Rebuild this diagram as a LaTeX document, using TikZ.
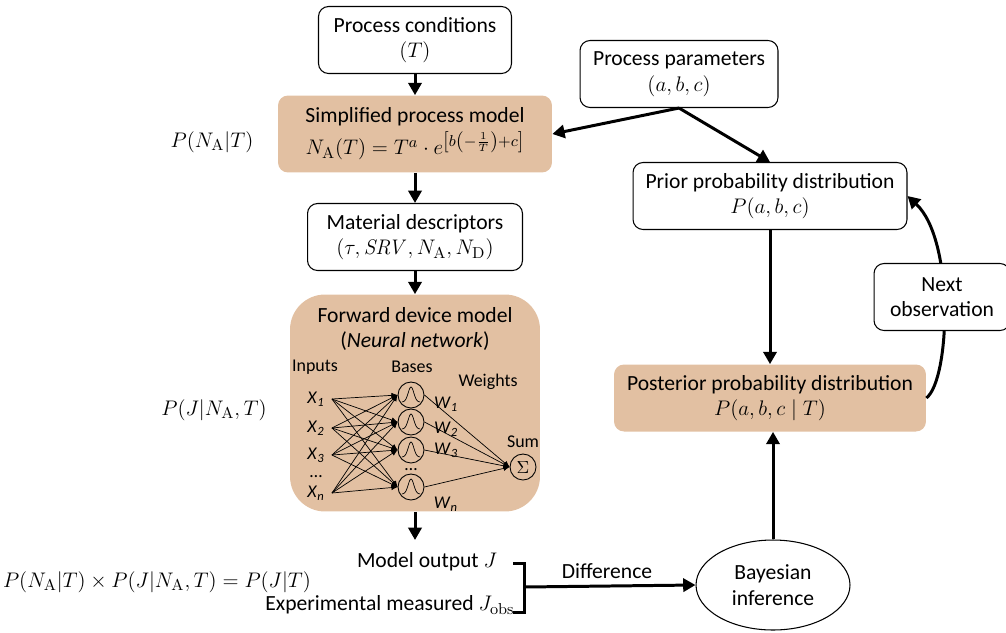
\documentclass[tikz,border=0pt]{standalone}
\usepackage{amsmath}
\usepackage[no-math]{fontspec}
\setmainfont{Carlito}
\usepackage{tikz}
\usetikzlibrary{arrows.meta,shapes.geometric}
\definecolor{tanfill}{RGB}{226,192,162}
\tikzset{
  whitebox/.style={draw, line width=0.6pt, rounded corners=0.2cm, fill=white, align=center, minimum height=1.34cm, inner sep=2pt},
  tanbox/.style={fill=tanfill, rounded corners=0.2cm, align=center, inner sep=2pt},
  flow/.style={line width=1.7pt, -{Triangle[length=7pt,width=7.5pt]}},
  nnline/.style={line width=0.4pt, -{Latex[length=3.5pt,width=3pt]}},
  nntext/.style={font=\fontsize{10.2}{11}\selectfont, inner sep=0pt},
  unit/.style={circle, draw, line width=0.5pt, minimum size=0.52cm, inner sep=0pt}
}

\begin{document}
\fontsize{12.3}{14.5}\selectfont
\begin{tikzpicture}[x=0.02cm,y=-0.02cm]
\useasboundingbox (0,0) rectangle (1006,632);

% left column
\node[whitebox, minimum width=3.86cm] (pc) at (415,40) {Process conditions\\$(T)$};
\node[tanbox, minimum width=5.48cm, minimum height=1.54cm] (spm) at (415,134) {Simplified process model\\[2pt]$N_{\mathrm{A}}(T) = T^{a}\cdot e^{\left[b\left(-\frac{1}{T}\right)+c\right]}$};
\node[whitebox, minimum width=4.3cm] (md) at (415,237) {Material descriptors\\$(\tau, \mathit{SRV}, N_{\mathrm{A}}, N_{\mathrm{D}})$};
\node[tanbox, minimum width=5cm, minimum height=4.34cm, rounded corners=0.7cm] (fdm) at (415,403) {};
\node[align=center] (fdmtitle) at (415,329) {Forward device model\\(\textit{Neural network})};
\coordinate (outtop) at (415,540);
\node (mout) at (427,562) {Model output $J$};
\node (mexp) at (390,605) {Experimental measured $J_{\mathrm{obs}}$};

\draw[flow] (pc.south) -- (spm.north);
\draw[flow] (spm.south) -- (md.north);
\draw[flow] (md.south) -- (fdm.north);
\draw[flow] (fdm.south) -- (outtop);

% neural network
\node[nntext] (lin) at (315,367) {Inputs};
\node[nntext] (lbase) at (412,367) {Bases};
\node[nntext] (lw) at (488,382) {Weights};
\node[nntext] (lsum) at (523,442) {Sum};
\foreach \xy/\lab [count=\i] in {399/1,428/2,455/3,493/n}
  \node[nntext] (xin\i) at (316,\xy) {\textit{X}\textsubscript{\textit{\lab}}};
\node[nntext] (xdots) at (316,477) {\ldots};
\foreach \by [count=\i] in {395,422,450,487}{
  \node[unit] (base\i) at (411,\by) {};
  \draw[line width=0.4pt] plot[domain=-9:9, samples=31, smooth] ({411+\x},{\by+7-15*exp(-(\x*\x)/16)});
}
\node[nntext] (bdots) at (411,470) {\ldots};
\node[unit, font=\fontsize{10.2}{11}\selectfont] (sum) at (523,467) {$\Sigma$};
\foreach \i in {1,...,4}
  \foreach \j in {1,...,4}
    \draw[nnline] ([xshift=4pt]xin\i.east) -- (base\j.west);
\foreach \i in {1,...,4}
  \draw[nnline] (base\i.east) -- (sum.west);
\foreach \wy/\lab [count=\i] in {404/1,429/2,450/3,504/n}
  \node[nntext] (w\i) at (446,\wy) {\textit{W}\textsubscript{\textit{\lab}}};

% probability labels
\node (pna) at (212,142) {$P(N_{\mathrm{A}}|T)$};
\node (pj) at (214,410) {$P(J|N_{\mathrm{A}},T)$};
\node (peq) at (157,582) {$P(N_{\mathrm{A}}|T)\times P(J|N_{\mathrm{A}},T) = P(J|T)$};

% right column
\node[whitebox, minimum width=3.96cm] (pp) at (679,74) {Process parameters\\$(a, b, c)$};
\node[whitebox, minimum width=5.48cm] (prior) at (770,196) {Prior probability distribution\\$P(a, b, c)$};
\node[tanbox, minimum width=6.24cm, minimum height=1.34cm] (post) at (770,398) {Posterior probability distribution\\$P(a, b, c \mid T)$};
\node[ellipse, draw, line width=0.6pt, fill=white, minimum width=3.08cm, minimum height=1.8cm, align=center, inner sep=0pt] (bayes) at (773,585) {Bayesian\\inference};

\draw[flow] (pp.south) -- (spm.east);
\draw[flow] (pp.south) -- (prior.north);
\draw[flow] (prior.south) -- (post.north);
\draw[flow] (bayes.north) -- (bayes.north |- post.south);

% feedback loop
\draw[flow] (post.east) .. controls (950,380) and (955,240) .. (prior.east);
\node[whitebox, minimum width=2.72cm] (nextobs) at (942,297) {Next\\observation};

% difference bracket
\coordinate (brtop) at (513,563);
\coordinate (brmid) at (524,587);
\draw[line width=1.7pt] (brtop) -- ++(11,0) -- ++(0,49) -- ++(-11,0);
\draw[flow] (brmid) -- (bayes.west);
\node (diff) at (607,571) {Difference};
\end{tikzpicture}
\end{document}
